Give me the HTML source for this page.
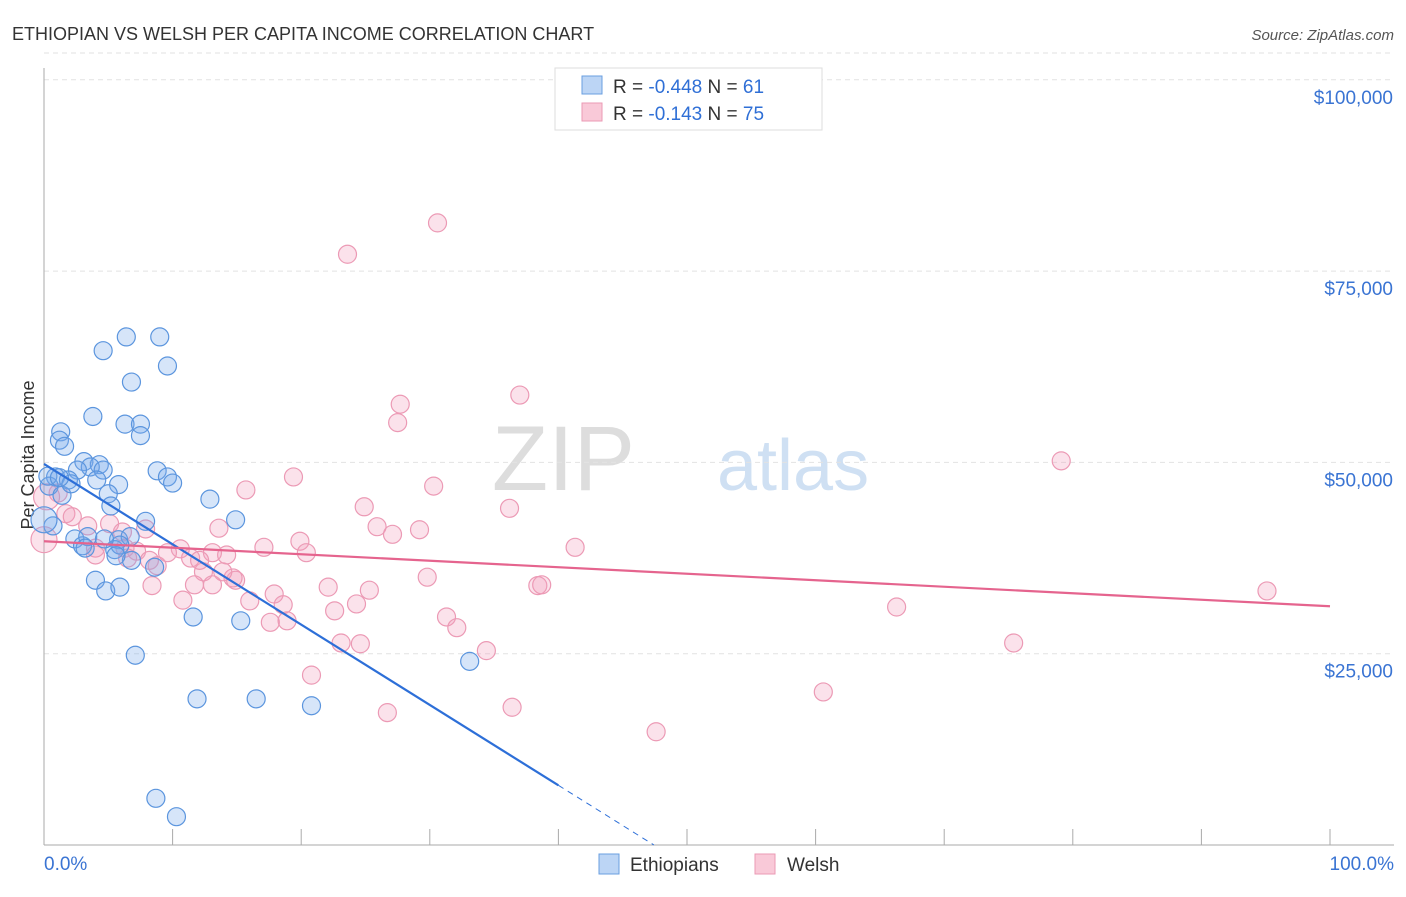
<!DOCTYPE html>
<html><head><meta charset="utf-8"><style>
body{margin:0;background:#fff;font-family:"Liberation Sans",sans-serif;}
svg text{font-family:"Liberation Sans",sans-serif;}
</style></head><body>
<svg id="c" width="1406" height="892">
<text x="12" y="40" font-size="18" fill="#333">ETHIOPIAN VS WELSH PER CAPITA INCOME CORRELATION CHART</text>
<text x="1394" y="40" font-size="15" fill="#555" font-style="italic" text-anchor="end">Source: ZipAtlas.com</text>
<text x="635" y="490" font-size="92" fill="#ddd" font-family="Liberation Serif" text-anchor="end">ZIP</text>
<text x="717" y="490" font-size="72" fill="#cfe0f3">atlas</text>
<text x="34" y="455" font-size="18" fill="#333" text-anchor="middle" transform="rotate(-90 34 455)">Per Capita Income</text>
<g id="grid"></g><g id="pts"></g><g id="lines"></g>
<g>
<rect x="555" y="68" width="267" height="62" fill="#fff" stroke="#ddd"/>
<rect x="582" y="76" width="20" height="18" fill="#bcd5f5" stroke="#6a9fe0"/>
<rect x="582" y="103" width="20" height="18" fill="#f9c9d8" stroke="#eb9ab4"/>
<text x="613" y="93" font-size="19" fill="#333">R = <tspan fill="#2f6fd6">-0.448</tspan>   N = <tspan fill="#2f6fd6">61</tspan></text>
<text x="613" y="120" font-size="19" fill="#333">R =  <tspan fill="#2f6fd6">-0.143</tspan>   N = <tspan fill="#2f6fd6">75</tspan></text>
</g>
<g>
<rect x="599" y="854" width="20" height="20" fill="#bcd5f5" stroke="#6a9fe0"/>
<text x="630" y="871" font-size="19" fill="#333">Ethiopians</text>
<rect x="755" y="854" width="20" height="20" fill="#f9c9d8" stroke="#eb9ab4"/>
<text x="787" y="871" font-size="19" fill="#333">Welsh</text>
</g>
</svg>
<script>
const yTicks=[25000,50000,75000,100000];
const yTickLabels=["$25,000","$50,000","$75,000","$100,000"];
const xEdgeLabels=["0.0%","100.0%"];
const ethX=[6.4,9.0,4.6,9.6,6.8,3.8,6.3,7.5,7.5,1.3,1.2,1.6,3.1,4.3,3.6,2.6,4.6,0.9,1.9,4.1,0.4,1.4,5.8,8.8,9.6,10.0,5.0,5.2,12.9,14.9,7.9,0.7,2.4,3.0,3.4,5.8,6.7,5.5,5.9,6.8,8.6,4.7,4.0,4.8,5.9,11.6,15.3,7.1,11.9,16.5,20.8,33.1,8.7,10.3,0.0,0.3,2.1,1.2,5.6,3.2];
const ethY=[66.4,66.4,64.6,62.6,60.5,56.0,55.0,55.0,53.5,54.0,52.9,52.1,50.1,49.7,49.4,49.0,49.0,48.1,47.7,47.7,46.9,45.7,47.1,48.9,48.1,47.3,45.9,44.3,45.2,42.5,42.3,41.7,40.0,39.1,40.3,39.9,40.3,38.6,39.2,37.2,36.3,40.0,34.6,33.2,33.7,29.8,29.3,24.8,19.1,19.1,18.2,24.0,6.1,3.7,42.5,48.2,47.2,48.0,37.8,38.8];
const welX=[30.6,23.6,27.7,37.0,27.5,79.1,19.4,30.3,15.7,24.9,36.2,25.9,29.2,27.1,13.6,41.3,19.9,20.4,17.1,10.6,13.1,14.2,11.4,9.6,7.2,5.1,6.1,7.9,1.7,2.2,1.1,4.0,6.3,8.8,12.4,14.9,14.7,29.8,22.1,25.3,17.9,11.7,8.4,10.8,16.0,18.6,24.3,22.6,38.4,38.7,31.3,32.1,17.6,18.9,23.1,24.6,34.4,66.3,95.1,75.4,60.6,20.8,26.7,36.4,47.6,0.0,0.2,3.4,4.0,13.9,6.5,12.1,13.1,8.2];
const welY=[81.3,77.2,57.6,58.8,55.2,50.2,48.1,46.9,46.4,44.2,44.0,41.6,41.2,40.6,41.4,38.9,39.7,38.2,38.9,38.7,38.2,37.9,37.5,38.2,38.4,42.0,40.9,41.3,43.3,42.9,46.0,38.8,38.8,36.5,35.7,34.6,34.9,35.0,33.7,33.3,32.8,34.0,33.9,32.0,31.9,31.4,31.5,30.6,33.9,34.0,29.8,28.4,29.1,29.3,26.4,26.3,25.4,31.1,33.2,26.4,20.0,22.2,17.3,18.0,14.8,39.9,45.5,41.7,37.9,35.7,37.5,37.2,34.0,37.2];
const ethTrend=[49.8,-1.05];
const welTrend=[39.7,-0.085];
const NS="http://www.w3.org/2000/svg";
const X=p=>44+p*12.86, Y=k=>845-k*1000/25000*191.3;
function mk(t,a,p){const e=document.createElementNS(NS,t);for(const k in a)e.setAttribute(k,a[k]);p.appendChild(e);return e;}
const grid=document.getElementById('grid');
yTicks.forEach((v,i)=>{
 const gl=mk('line',{x1:44,x2:1394,y1:Y(v/1000),y2:Y(v/1000),stroke:'#e2e2e2','stroke-dasharray':'5,4'},grid);
 
 
 const t=mk('text',{x:1393,y:Y(v/1000)+24,'font-size':19,fill:'#3a74d3','text-anchor':'end'},grid);
 t.textContent=yTickLabels[i];
 
 
});
mk('line',{x1:44,x2:1394,y1:Y(103.5),y2:Y(103.5),stroke:'#e2e2e2','stroke-dasharray':'5,4'},grid);
const ax=mk('line',{x1:44,x2:44,y1:68,y2:845,stroke:'#aaa'},grid);


const bx=mk('line',{x1:44,x2:1394,y1:845,y2:845,stroke:'#aaa'},grid);


for(let i=0;i<=10;i++){
 const tk=mk('line',{x1:X(i*10),x2:X(i*10),y1:829,y2:845,stroke:'#aaa'},grid);
 
 
}
[[0,'start',44],[1,'end',1394]].forEach(([i,a,x])=>{
 const t=mk('text',{x:x,y:870,'font-size':19,fill:'#3a74d3','text-anchor':a},grid);
 t.textContent=xEdgeLabels[i];
 
 
});
const pts=document.getElementById('pts');
welX.forEach((x,i)=>{
 const c=mk('circle',{cx:X(x),cy:Y(welY[i]),r:x<0.5?13:9,fill:'rgba(243,160,188,0.3)',stroke:'#ec9ab5','stroke-width':1.2},pts);
 
 
});
ethX.forEach((x,i)=>{
 const c=mk('circle',{cx:X(x),cy:Y(ethY[i]),r:x<0.2?13:9,fill:'rgba(120,170,235,0.3)',stroke:'#5b95de','stroke-width':1.2},pts);
 
 
});
const lines=document.getElementById('lines');
const zeroX=-ethTrend[0]/ethTrend[1];
const l1=mk('line',{x1:X(0),y1:Y(ethTrend[0]),x2:X(40),y2:Y(ethTrend[0]+ethTrend[1]*40),stroke:'#2d6fd8','stroke-width':2.2},lines);


const l1d=mk('line',{x1:X(40),y1:Y(ethTrend[0]+ethTrend[1]*40),x2:X(zeroX),y2:Y(0),stroke:'#2d6fd8','stroke-width':1,'stroke-dasharray':'6,5'},lines);


const l2=mk('line',{x1:X(0),y1:Y(welTrend[0]),x2:X(100),y2:Y(welTrend[0]+welTrend[1]*100),stroke:'#e5648e','stroke-width':2.2},lines);


</script>
</body></html>
